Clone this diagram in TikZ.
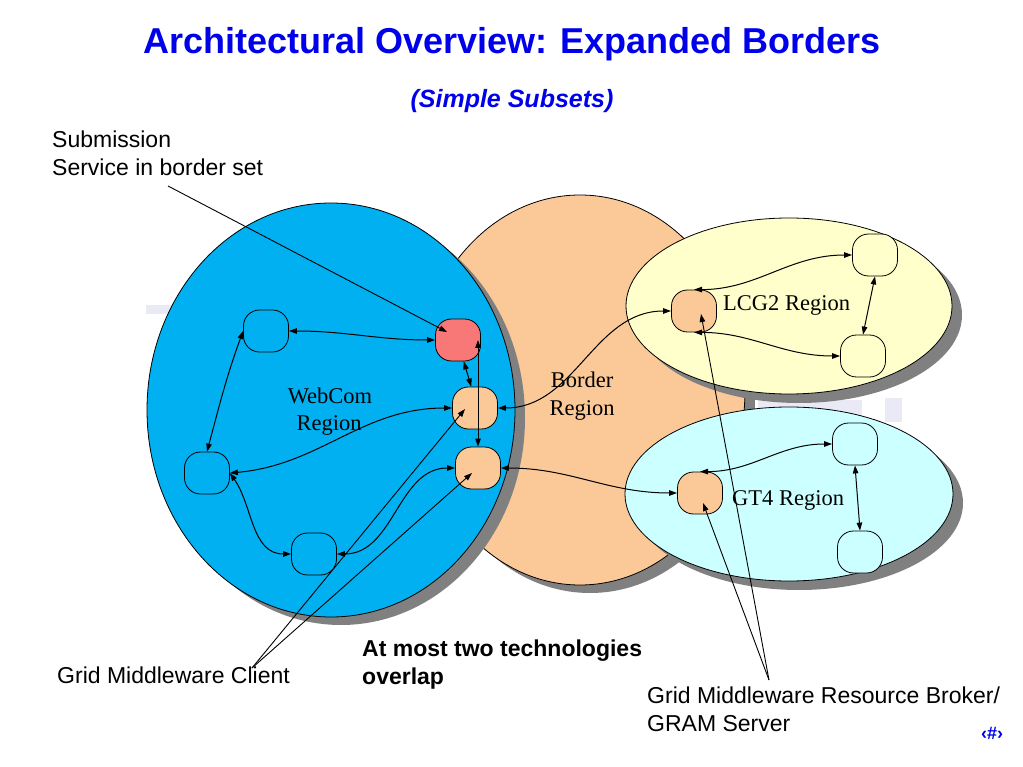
\documentclass[tikz,border=0pt]{standalone}
\usepackage{fontspec}
\setmainfont{Liberation Sans}
\newfontfamily\regionfont{Liberation Serif}
\usetikzlibrary{arrows.meta,calc}
\definecolor{titleblue}{RGB}{0,0,235}
\definecolor{webblue}{RGB}{0,176,240}
\definecolor{peach}{RGB}{251,201,151}
\definecolor{paleyellow}{RGB}{255,255,204}
\definecolor{palecyan}{RGB}{204,255,255}
\definecolor{boxred}{RGB}{248,120,120}
\definecolor{shadowgray}{RGB}{128,128,128}
\definecolor{lavender}{RGB}{234,234,246}
\tikzset{
  region/.style={draw=black, line width=0.8pt},
  shade/.style={fill=shadowgray},
  box/.style={draw=black, line width=0.8pt, rounded corners=16pt,
    minimum width=45pt, minimum height=42pt, inner sep=0pt},
  link/.style={line width=1pt, {Triangle[length=8pt,width=5.5pt]}-{Triangle[length=8pt,width=5.5pt]}},
  pointer/.style={line width=0.9pt, -{Triangle[length=8pt,width=5.5pt]}},
  sanstext/.style={font=\fontsize{23}{28}\selectfont, anchor=base west, inner sep=0pt},
  boldtext/.style={font=\bfseries\fontsize{23}{28}\selectfont, anchor=base west, inner sep=0pt},
  regionlabel/.style={font=\regionfont\fontsize{22.5}{27}\selectfont, anchor=base, inner sep=0pt}
}
\begin{document}
\begin{tikzpicture}[x=1pt,y=-1pt]
\useasboundingbox[fill=white] (0,0) rectangle (1023,767);

% faint background marks
\fill[lavender] (146,305) rectangle (180,314);
\fill[lavender] (758,400) rectangle (862,424);
\fill[lavender] (885,398) rectangle (902,422);

% Border region
\fill[shade] (590,398) ellipse [x radius=165pt, y radius=195pt];
\draw[region, fill=peach] (580,390) ellipse [x radius=165pt, y radius=195pt];
% WebCom region
\fill[shade] (341,418) ellipse [x radius=184pt, y radius=207pt];
\draw[region, fill=webblue] (331,410) ellipse [x radius=184pt, y radius=207pt];
% LCG2 region
\fill[shade] (799,315) ellipse [x radius=163pt, y radius=88pt];
\draw[region, fill=paleyellow] (789,306) ellipse [x radius=163pt, y radius=88pt];
% GT4 region
\fill[shade] (799,503) ellipse [x radius=164pt, y radius=87pt];
\draw[region, fill=palecyan] (789,494) ellipse [x radius=164pt, y radius=87pt];

% region labels
\node[regionlabel] (webcom1) at (330,403) {WebCom};
\node[regionlabel] (webcom2) at (329,430) {Region};
\node[regionlabel] (border1) at (582,388) {Border};
\node[regionlabel] (border2) at (582,415) {Region};
\node[regionlabel, anchor=base west] (lcglabel) at (723,311) {LCG2 Region};
\node[regionlabel, anchor=base west] (gtlabel) at (732,505) {GT4 Region};

% boxes in WebCom region
\node[box, fill=webblue] (A) at (266,331) {};
\node[box, fill=boxred] (R) at (458,340) {};
\node[box, fill=peach] (O1) at (475,408) {};
\node[box, fill=peach] (O2) at (478,468) {};
\node[box, fill=webblue] (B2) at (207,473) {};
\node[box, fill=webblue] (B3) at (314,554) {};
% LCG2 boxes
\node[box, fill=peach] (L0) at (694,311) {};
\node[box, fill=paleyellow] (L1) at (875,255) {};
\node[box, fill=paleyellow] (L2) at (863,356) {};
% GT4 boxes
\node[box, fill=peach] (G0) at (700,493) {};
\node[box, fill=palecyan] (G1) at (855,444) {};
\node[box, fill=palecyan] (G2) at (860,552) {};

% connectors WebCom
\draw[link] (A.east) to[out=0,in=180] (R.west);
\draw[link] (A.west) to[out=-110,in=75] (B2.north);
\draw[link] (B2.east) to[out=5,in=180] (O1.west);
\draw[link] (B2.east) to[out=-55,in=180] (B3.west);
\draw[link] (B3.east) to[out=0,in=180] (O2.west);
\draw[link] (R.-75) -- (O1.100);
\draw[link] (R.center -| O2.north) -- (O2.north);
% connectors across border
\draw[link] (O1.east) to[out=0,in=180] (L0.west);
\draw[link] (O2.east) to[out=0,in=180] (G0.west);
% LCG2
\draw[link] (L0.north) to[out=0,in=180] (L1.west);
\draw[link] (L0.south) to[out=0,in=180] (L2.west);
\draw[link] (L1.south) -- (L2.north);
% GT4
\draw[link] (G0.north) to[out=0,in=180] (G1.west);
\draw[link] (G1.south) -- (G2.north);

% texts
\node[font=\bfseries\fontsize{36}{40}\selectfont, text=titleblue, anchor=base, inner sep=0pt] (title) at (512,54) {Architectural Overview: Expanded Borders};
\node[font=\bfseries\itshape\fontsize{25}{30}\selectfont, text=titleblue, anchor=base, inner sep=0pt] (subtitle) at (512,108) {(Simple Subsets)};
\node[sanstext] (sub1) at (52,148) {Submission};
\node[sanstext] (sub2) at (52,176) {Service in border set};
\node[sanstext] (client) at (57,683) {Grid Middleware Client};
\node[boldtext] (overlap1) at (362,656) {At most two technologies};
\node[boldtext] (overlap2) at (362,684) {overlap};
\node[sanstext] (broker1) at (647,703) {Grid Middleware Resource Broker/};
\node[sanstext] (broker2) at (647,731) {GRAM Server};
\node[font=\bfseries\fontsize{18}{20}\selectfont, text=titleblue, anchor=base, inner sep=0pt] (pagenum) at (992,739) {‹\#›};

% annotation pointers
\coordinate (subpt) at (168,186);
\coordinate (clientpt) at (252,668);
\coordinate (brokerpt) at (769,680);
\draw[pointer] (subpt) -- ($(R.center)+(-11,-8)$);
\draw[pointer] (clientpt) -- ($(O1.center)+(-10,1)$);
\draw[pointer] (clientpt) -- ($(O2.center)+(-6,5)$);
\draw[pointer] (brokerpt) -- ($(L0.center)+(7,3)$);
\draw[pointer] (brokerpt) -- ($(G0.center)+(3,10)$);
\end{tikzpicture}
\end{document}
